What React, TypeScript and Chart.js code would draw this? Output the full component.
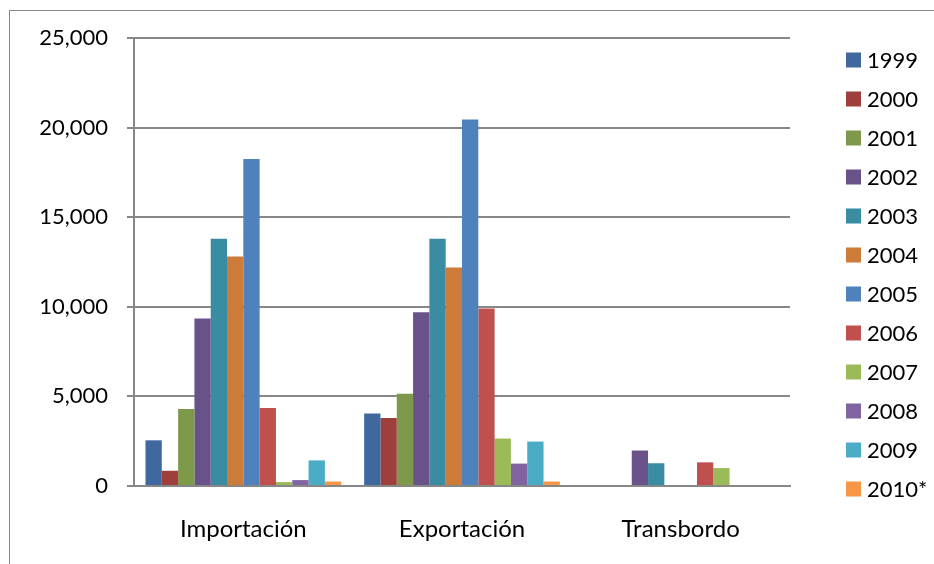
import React, { useEffect, useRef } from "react";
import { Chart, registerables } from "chart.js";

Chart.register(...registerables);

const categories = ["Importación", "Exportación", "Transbordo"];
const years = ["1999", "2000", "2001", "2002", "2003", "2004", "2005", "2006", "2007", "2008", "2009", "2010*"];
const colors = [
  "#3F699E", "#9E3F3C", "#7F994A", "#69528A", "#3A8CA3", "#CC7B38",
  "#4F81BD", "#C0504D", "#9BBB59", "#8064A2", "#4BACC6", "#F79646",
];

// Values per year: [Importación, Exportación, Transbordo]
const v1999 = [2550, 4050, 0];
const v2000 = [850, 3800, 0];
const v2001 = [4300, 5150, 0];
const v2002 = [9350, 9700, 1980];
const v2003 = [13800, 13800, 1270];
const v2004 = [12800, 12200, 0];
const v2005 = [18250, 20450, 0];
const v2006 = [4350, 9900, 1320];
const v2007 = [220, 2650, 1000];
const v2008 = [330, 1250, 0];
const v2009 = [1430, 2480, 0];
const v2010 = [250, 250, 0];

const series = [v1999, v2000, v2001, v2002, v2003, v2004, v2005, v2006, v2007, v2008, v2009, v2010];

const yTicks = [0, 5000, 10000, 15000, 20000, 25000];

const FONT = "Lato, 'Open Sans', sans-serif";

const legendPlugin = {
  id: "sideLegend",
  afterDraw(chart: any) {
    const ctx = chart.ctx;
    ctx.save();
    ctx.font = `22px ${FONT}`;
    ctx.textBaseline = "middle";
    ctx.textAlign = "left";
    chart.data.datasets.forEach((ds: any, i: number) => {
      const cy = 60 + i * 39;
      ctx.fillStyle = ds.backgroundColor;
      ctx.fillRect(846, cy - 7.5, 15, 15);
      ctx.fillStyle = "#000";
      ctx.fillText(ds.label, 867, cy + 1);
    });
    ctx.restore();
  },
};

export default function App() {
  const ref = useRef<HTMLCanvasElement>(null);

  useEffect(() => {
    if (!ref.current) return;
    const chart = new Chart(ref.current, {
      type: "bar",
      data: {
        labels: categories,
        datasets: years.map((y, i) => ({
          label: y,
          data: series[i],
          backgroundColor: colors[i],
          borderWidth: 0,
          categoryPercentage: 0.895,
          barPercentage: 1.0,
        })),
      },
      options: {
        responsive: false,
        animation: false,
        layout: { padding: { top: 38, right: 144, left: 0, bottom: 0 } },
        plugins: {
          legend: { display: false },
          tooltip: { enabled: false },
        },
        scales: {
          x: {
            grid: { display: false },
            border: { display: true, color: "#878787", width: 2 },
            ticks: {
              color: "#000",
              font: { family: FONT, size: 24 },
              padding: 21,
            },
            afterFit: (s: any) => {
              s.height = 78;
            },
          },
          y: {
            min: 0,
            max: 25000,
            afterBuildTicks: (s: any) => {
              s.ticks = yTicks.map((value) => ({ value }));
            },
            grid: { color: "#878787", lineWidth: 2, tickLength: 7 },
            border: { display: true, color: "#878787", width: 2 },
            ticks: {
              color: "#000",
              font: { family: FONT, size: 22 },
              padding: 19,
              callback: (v: any) => Number(v).toLocaleString("en-US"),
            },
            afterFit: (s: any) => {
              s.width = 134;
            },
          },
        },
      },
      plugins: [legendPlugin],
    });
    return () => chart.destroy();
  }, []);

  return (
    <div style={{ position: "fixed", left: 0, top: 0, width: 934, height: 564, overflow: "hidden", background: "#fff" }}>
      <div
        style={{
          position: "absolute",
          left: 9,
          top: 10,
          width: 1000,
          height: 1000,
          borderLeft: "1.5px solid #888",
          borderTop: "1.5px solid #888",
        }}
      />
      <canvas ref={ref} width={934} height={564} style={{ position: "absolute", left: 0, top: 0 }} />
    </div>
  );
}
